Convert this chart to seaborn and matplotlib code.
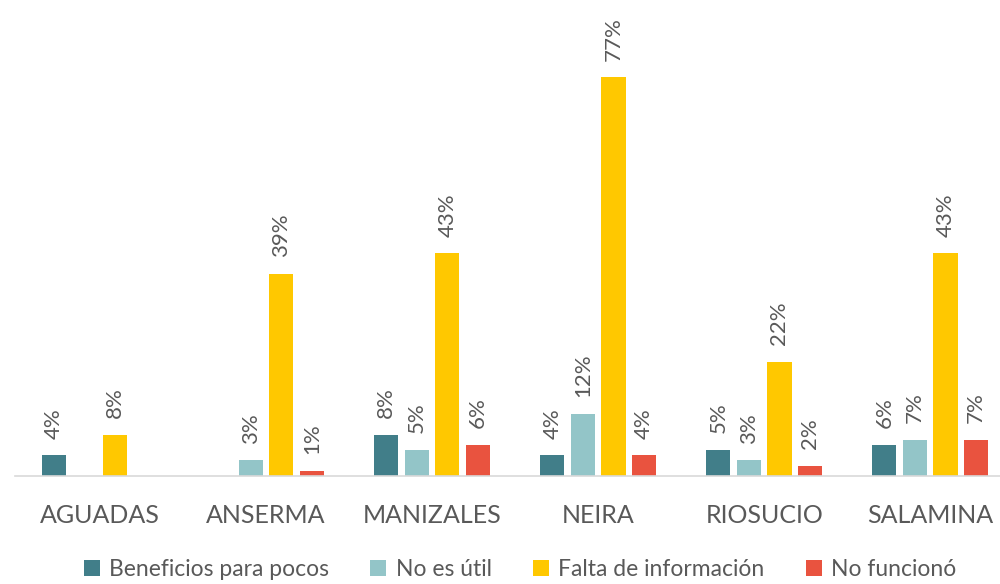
import numpy as np
import pandas as pd
import matplotlib
matplotlib.use("Agg")
import matplotlib.pyplot as plt
import seaborn as sns

categories = ["AGUADAS", "ANSERMA", "MANIZALES", "NEIRA", "RIOSUCIO", "SALAMINA"]
series = ["Beneficios para pocos", "No es útil", "Falta de información", "No funcionó"]
beneficios = [4, np.nan, 8, 4, 5, 6]
no_util = [np.nan, 3, 5, 12, 3, 7]
falta_info = [8, 39, 43, 77, 22, 43]
no_funciono = [np.nan, 1, 6, 4, 2, 7]
colors = ["#417E89", "#93C5C8", "#FFC800", "#E9533F"]

rows = []
for s, vals in zip(series, [beneficios, no_util, falta_info, no_funciono]):
    for c, v in zip(categories, vals):
        if not np.isnan(v):
            rows.append({"Municipio": c, "Serie": s, "Valor": v})
df = pd.DataFrame(rows)

sns.set_style("white")
plt.rcParams["font.family"] = ["Lato", "DejaVu Sans"]
text_color = "#595959"

fig = plt.figure(figsize=(10, 5.84), dpi=100)
ax = fig.add_axes([0.015, 0.185, 0.985, 0.815])

sns.barplot(data=df, x="Municipio", y="Valor", hue="Serie", order=categories,
            hue_order=series, palette=colors, width=0.736, gap=0.21,
            saturation=1, ax=ax, legend=True, errorbar=None, linewidth=0)

for cont in ax.containers:
    for bar in cont:
        if bar is None:
            continue
        h = bar.get_height()
        if h is None or np.isnan(h):
            continue
        ax.annotate(f"{int(round(h))}%", (bar.get_x() + bar.get_width() / 2, h),
                    xytext=(0, 12), textcoords="offset points", rotation=90,
                    ha="center", va="bottom", fontsize=16, color=text_color)

ax.set_xlim(-0.512, 5.42)
ax.set_ylim(0, 91.9)
ax.set_yticks([])
ax.set_xlabel("")
ax.set_ylabel("")
for side in ["top", "right", "left"]:
    ax.spines[side].set_visible(False)
ax.spines["bottom"].set_color("#D9D9D9")
ax.spines["bottom"].set_linewidth(1.2)
ax.tick_params(axis="x", length=0, pad=20, labelsize=18, labelcolor=text_color)

handles, labels = ax.get_legend_handles_labels()
ax.legend_.remove()
fig.legend(handles, labels, loc="lower center", bbox_to_anchor=(0.52, -0.028),
           ncol=4, frameon=False, fontsize=16.5, labelcolor=text_color,
           handlelength=0.7, handleheight=0.7, handletextpad=0.4,
           columnspacing=1.8)

fig.savefig("out.png", dpi=100)
